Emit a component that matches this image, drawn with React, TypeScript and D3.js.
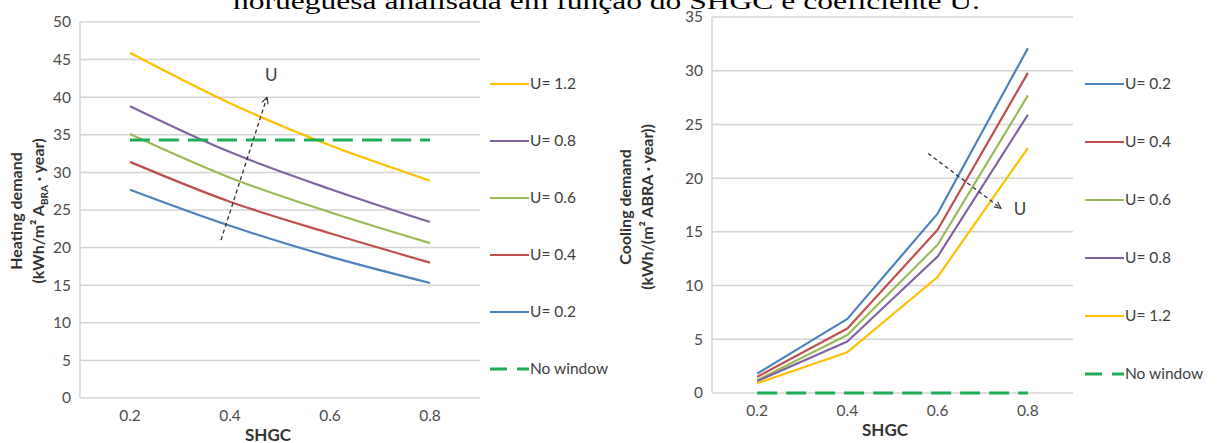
import React, { useEffect, useRef } from 'react';
import * as d3 from 'd3';

const shgc = [0.2, 0.4, 0.6, 0.8];

const heatU02 = [27.7, 22.9, 18.8, 15.3];
const heatU04 = [31.4, 26.1, 21.9, 18.0];
const heatU06 = [35.1, 29.3, 24.7, 20.6];
const heatU08 = [38.8, 32.7, 27.8, 23.4];
const heatU12 = [45.9, 39.2, 33.6, 28.9];
const heatNoWindow = [34.3, 34.3, 34.3, 34.3];

const coolU02 = [1.8, 6.9, 16.7, 32.1];
const coolU04 = [1.5, 6.0, 15.2, 29.8];
const coolU06 = [1.2, 5.4, 13.8, 27.7];
const coolU08 = [1.1, 4.8, 12.7, 25.9];
const coolU12 = [0.9, 3.8, 10.8, 22.8];
const coolNoWindow = [0, 0, 0, 0];

const heatTicks = [0, 5, 10, 15, 20, 25, 30, 35, 40, 45, 50];
const coolTicks = [0, 5, 10, 15, 20, 25, 30, 35];

// arrow annotations, in data units [shgc, value]
const heatArrow = [[0.382, 21], [0.474, 40]];
const coolArrow = [[0.579, 22.3], [0.74, 17.2]];

const colors = {
  u02: '#4f81bd',
  u04: '#c0504d',
  u06: '#9bbb59',
  u08: '#8064a2',
  u12: '#ffc000',
  none: '#1fae57',
};

const FONT = 'Lato, "Open Sans", sans-serif';

function drawPanel(svg, opts) {
  const { left, right, top, bottom, yMax, ticks, series, arrow, arrowLabelOffset, legendX, legendY, legendStep, curve, title1, title2, titleX, titleY, shgcX } = opts;

  const x = d3.scaleLinear().domain([0.1, 0.9]).range([left, right]);
  const y = d3.scaleLinear().domain([0, yMax]).range([bottom, top]);

  const g = svg.append('g');

  // grid
  g.selectAll('.grid')
    .data(ticks)
    .enter()
    .append('line')
    .attr('x1', left)
    .attr('x2', right)
    .attr('y1', (d) => y(d))
    .attr('y2', (d) => y(d))
    .attr('stroke', '#d4d4d4')
    .attr('stroke-width', 1.5);

  g.append('line')
    .attr('x1', left)
    .attr('x2', left)
    .attr('y1', top)
    .attr('y2', bottom)
    .attr('stroke', '#d4d4d4')
    .attr('stroke-width', 1.5);

  // y tick labels
  g.selectAll('.ylab')
    .data(ticks)
    .enter()
    .append('text')
    .attr('x', left - 9)
    .attr('y', (d) => y(d))
    .attr('dy', '0.35em')
    .attr('text-anchor', 'end')
    .attr('font-family', FONT)
    .attr('font-size', 15.5)
    .attr('fill', '#4d4d4d')
    .text((d) => d);

  // x tick labels
  g.selectAll('.xlab')
    .data(shgc)
    .enter()
    .append('text')
    .attr('x', (d) => x(d))
    .attr('y', bottom + 23)
    .attr('text-anchor', 'middle')
    .attr('font-family', FONT)
    .attr('font-size', 15.5)
    .attr('fill', '#4d4d4d')
    .text((d) => d.toFixed(1));

  // x title
  g.append('text')
    .attr('x', shgcX)
    .attr('y', bottom + 43)
    .attr('text-anchor', 'middle')
    .attr('font-family', FONT)
    .attr('font-weight', 'bold')
    .attr('font-size', 17)
    .attr('fill', '#333')
    .text('SHGC');

  // y title
  const yt = g.append('text')
    .attr('transform', `translate(${titleX},${titleY}) rotate(-90)`)
    .attr('text-anchor', 'middle')
    .attr('font-family', FONT)
    .attr('font-weight', 'bold')
    .attr('font-size', 16)
    .attr('fill', '#333');
  yt.append('tspan').attr('x', 0).attr('dy', 0).text(title1);
  const t2 = yt.append('tspan').attr('x', 0).attr('dy', 22);
  title2(t2);

  // series
  series.forEach((s) => {
    const line = d3
      .line()
      .x((d, i) => x(shgc[i]))
      .y((d) => y(d))
      .curve(curve);
    g.append('path')
      .datum(s.values)
      .attr('fill', 'none')
      .attr('stroke', s.color)
      .attr('stroke-width', s.dashed ? 3 : 2.2)
      .attr('stroke-linejoin', 'round')
      .attr('stroke-dasharray', s.dashed ? '20,9' : null)
      .attr('d', line);
  });

  // arrow
  g.append('line')
    .attr('x1', x(arrow[0][0]))
    .attr('y1', y(arrow[0][1]))
    .attr('x2', x(arrow[1][0]))
    .attr('y2', y(arrow[1][1]))
    .attr('stroke', '#333')
    .attr('stroke-width', 1.3)
    .attr('stroke-dasharray', '4,3')
    .attr('marker-end', 'url(#arrowhead)');
  g.append('text')
    .attr('x', x(arrow[1][0]) + arrowLabelOffset[0])
    .attr('y', y(arrow[1][1]) + arrowLabelOffset[1])
    .attr('font-family', FONT)
    .attr('font-size', 17)
    .attr('fill', '#404040')
    .text('U');

  // legend
  series
    .slice()
    .sort((a, b) => a.legendOrder - b.legendOrder)
    .forEach((s, i) => {
      const ly = legendY + i * legendStep;
      g.append('line')
        .attr('x1', legendX)
        .attr('x2', legendX + 39)
        .attr('y1', ly)
        .attr('y2', ly)
        .attr('stroke', s.color)
        .attr('stroke-width', s.dashed ? 3 : 2.2)
        .attr('stroke-dasharray', s.dashed ? '17,10' : null);
      g.append('text')
        .attr('x', legendX + 40)
        .attr('y', ly)
        .attr('dy', '0.35em')
        .attr('font-family', FONT)
        .attr('font-size', 15.5)
        .attr('fill', '#404040')
        .text(s.name);
    });
}

export default function App() {
  const ref = useRef(null);

  useEffect(() => {
    const svg = d3.select(ref.current);
    svg.selectAll('*').remove();

    svg.append('rect').attr('width', 1220).attr('height', 443).attr('fill', '#fff');

    const defs = svg.append('defs');
    defs
      .append('marker')
      .attr('id', 'arrowhead')
      .attr('viewBox', '0 0 10 10')
      .attr('refX', 9)
      .attr('refY', 5)
      .attr('markerWidth', 8)
      .attr('markerHeight', 8)
      .attr('markerUnits', 'userSpaceOnUse')
      .attr('orient', 'auto')
      .append('path')
      .attr('d', 'M1,1 L9,5 L1,9')
      .attr('fill', 'none')
      .attr('stroke', '#333')
      .attr('stroke-width', 1.5);

    // caption fragment cut off at the top
    svg.append('text')
      .attr('x', 233)
      .attr('y', 9)
      .attr('font-family', '"Liberation Serif", "Times New Roman", serif')
      .attr('font-size', 24)
      .attr('fill', '#000')
      .attr('textLength', 747)
      .attr('lengthAdjust', 'spacingAndGlyphs')
      .text('norueguesa analisada em função do SHGC e coeficiente U.');

    drawPanel(svg, {
      left: 80,
      right: 480,
      top: 22,
      bottom: 398,
      yMax: 50,
      ticks: heatTicks,
      curve: d3.curveCatmullRom.alpha(0.5),
      series: [
        { name: 'U= 0.2', values: heatU02, color: colors.u02, legendOrder: 4 },
        { name: 'U= 0.4', values: heatU04, color: colors.u04, legendOrder: 3 },
        { name: 'U= 0.6', values: heatU06, color: colors.u06, legendOrder: 2 },
        { name: 'U= 0.8', values: heatU08, color: colors.u08, legendOrder: 1 },
        { name: 'U= 1.2', values: heatU12, color: colors.u12, legendOrder: 0 },
        { name: 'No window', values: heatNoWindow, color: colors.none, dashed: true, legendOrder: 5 },
      ],
      arrow: heatArrow,
      arrowLabelOffset: [-2, -16],
      legendX: 490,
      legendY: 84,
      legendStep: 57,
      title1: 'Heating demand',
      title2: (t) => {
        t.append('tspan').text('(kWh/m² A');
        t.append('tspan').attr('font-size', 10).attr('dy', 4).text('BRA');
        t.append('tspan').attr('dy', -4).text(' · year)');
      },
      titleX: 22,
      titleY: 211,
      shgcX: 268,
    });

    drawPanel(svg, {
      left: 712,
      right: 1073,
      top: 17,
      bottom: 393,
      yMax: 35,
      ticks: coolTicks,
      curve: d3.curveLinear,
      series: [
        { name: 'U= 0.2', values: coolU02, color: colors.u02, legendOrder: 0 },
        { name: 'U= 0.4', values: coolU04, color: colors.u04, legendOrder: 1 },
        { name: 'U= 0.6', values: coolU06, color: colors.u06, legendOrder: 2 },
        { name: 'U= 0.8', values: coolU08, color: colors.u08, legendOrder: 3 },
        { name: 'U= 1.2', values: coolU12, color: colors.u12, legendOrder: 4 },
        { name: 'No window', values: coolNoWindow, color: colors.none, dashed: true, legendOrder: 5 },
      ],
      arrow: coolArrow,
      arrowLabelOffset: [13, 7],
      legendX: 1085,
      legendY: 84,
      legendStep: 58,
      title1: 'Cooling demand',
      title2: (t) => {
        t.append('tspan').text('(kWh/(m² ABRA · year))');
      },
      titleX: 631,
      titleY: 207,
      shgcX: 885,
    });
  }, []);

  return (
    <svg
      ref={ref}
      width={1220}
      height={443}
      style={{ position: 'absolute', left: 0, top: 0 }}
    />
  );
}
